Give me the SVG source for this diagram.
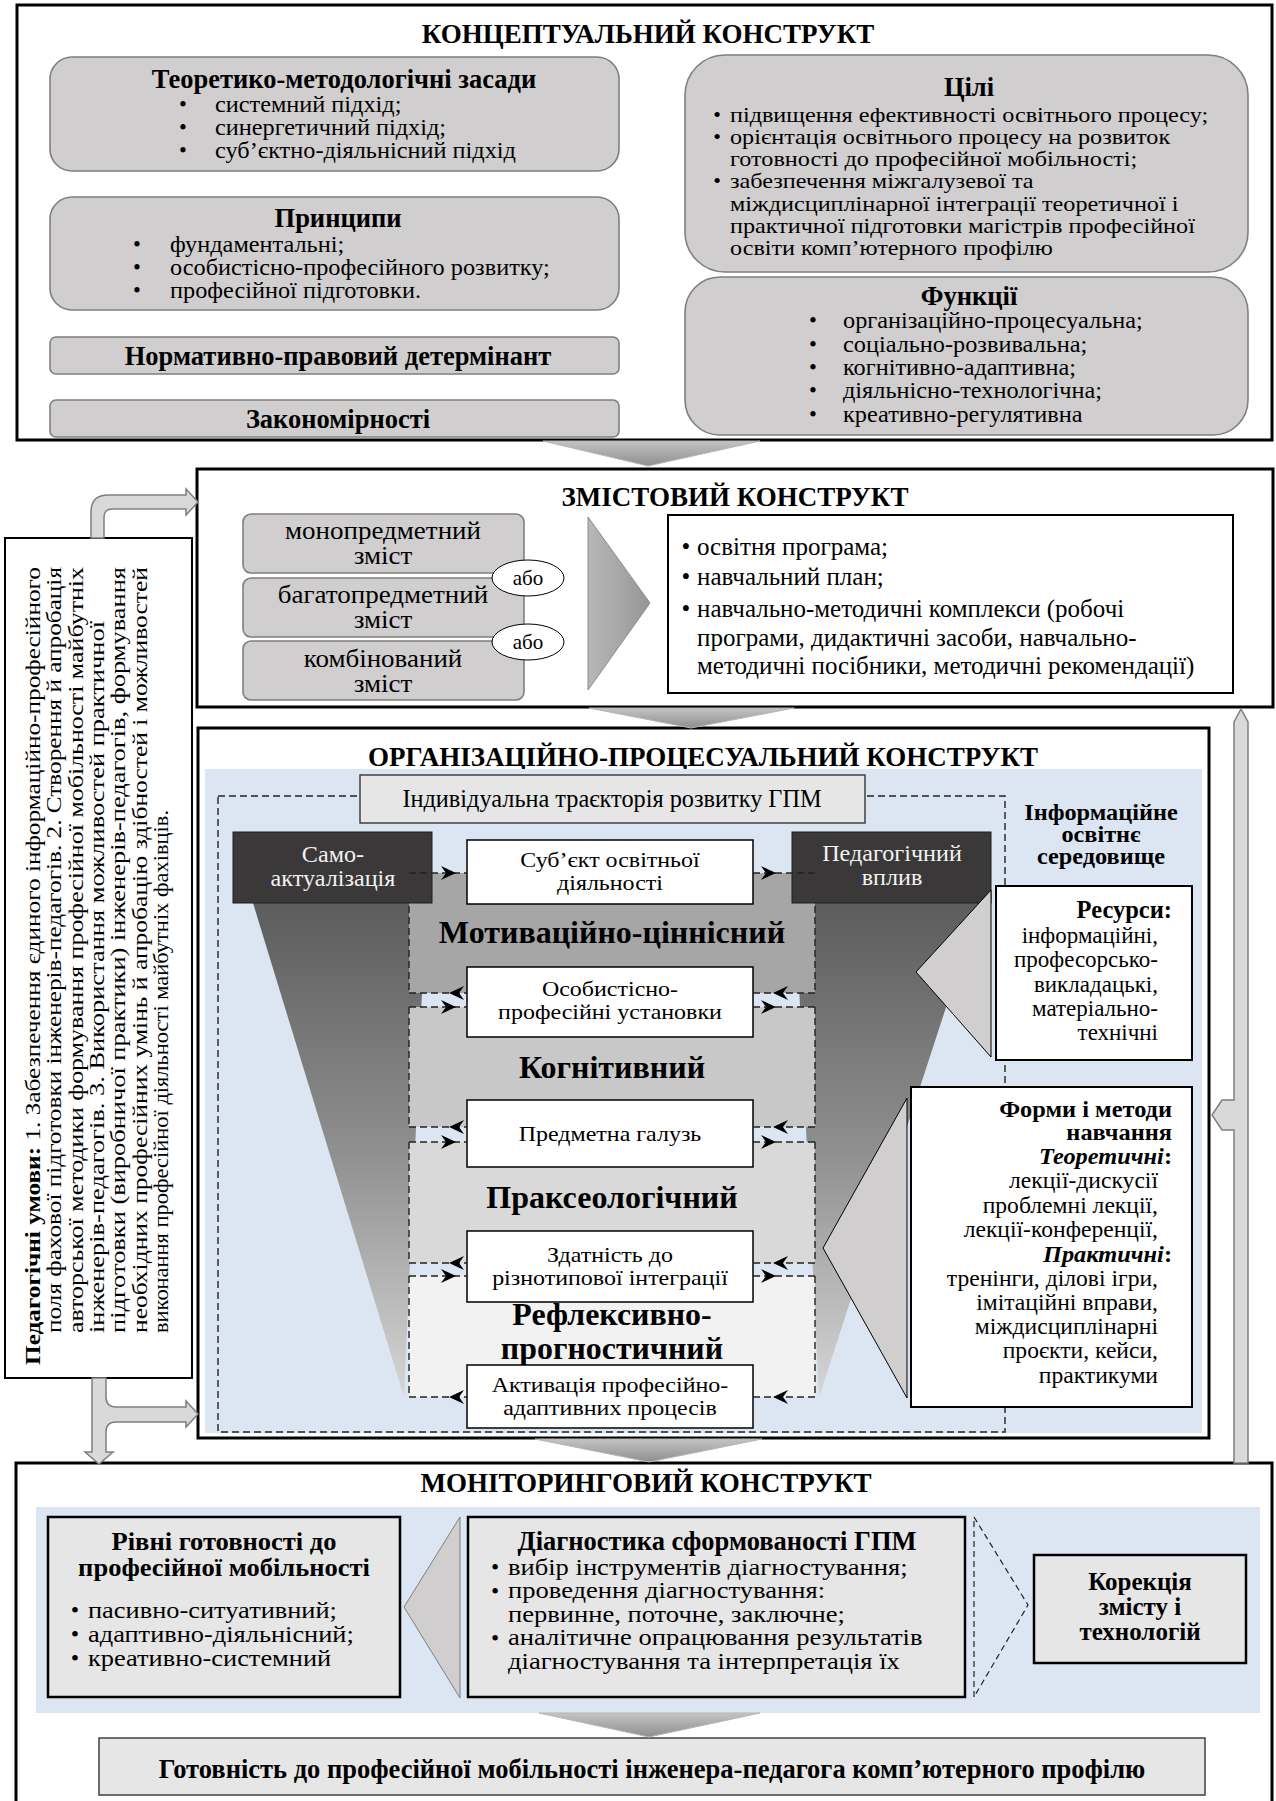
<svg xmlns="http://www.w3.org/2000/svg" width="1276" height="1801" viewBox="0 0 1276 1801">
<defs>
<style>
text{font-family:"Liberation Serif","Times New Roman",serif;fill:#000;}
.b{font-weight:bold;}
.i{font-style:italic;}
.st{font-size:27px;font-weight:bold;text-anchor:middle;}
.hd{font-size:26.5px;font-weight:bold;}
.cb{font-size:22.5px;}
.cz{font-size:22px;}
.gb{font-size:25px;}
.pb{font-size:25px;}
.ob{font-size:22px;}
.dk{font-size:23px;}
.rb{font-size:23px;}
.fb{font-size:22.5px;}
.fh{font-size:23px;font-weight:bold;}
.rh{font-size:24.5px;font-weight:bold;}
.ih{font-size:22.5px;font-weight:bold;}
.mb{font-size:24px;}
.db{font-size:23.3px;}
.cd{font-size:21px;}
.f21{font-size:21px;}
.f32{font-size:32px;font-weight:bold;}
.m{text-anchor:middle;}
.e{text-anchor:end;}
.w{fill:#f2f2f2;}
.rbox{fill:#d0cece;stroke:#7f7f7f;stroke-width:1.6;}
.lbox{fill:#e7e6e6;stroke:#000;stroke-width:2.5;}
.wbox{fill:#fff;stroke:#000;stroke-width:2;}
.sbox{fill:#fff;stroke:#000;stroke-width:1.5;}
.frame{fill:#fff;stroke:#000;stroke-width:3;}
.dash{fill:none;stroke:#222;stroke-width:1.4;stroke-dasharray:7 4;}
.chev{fill:url(#gchev);stroke:#b5b5b5;stroke-width:1;}
.ptr{fill:#d0cece;stroke:#000;stroke-width:1;}
.garrow{fill:#d9d9d9;stroke:#7f7f7f;stroke-width:1.5;}
.ah{fill:#000;}
</style>
<linearGradient id="gchev" x1="0" y1="0" x2="0" y2="1">
<stop offset="0" stop-color="#c4c4c4"/>
<stop offset="1" stop-color="#8e8e8e"/>
</linearGradient>
<linearGradient id="gtri" x1="0" y1="0" x2="1" y2="0">
<stop offset="0" stop-color="#b8b8b8"/>
<stop offset="1" stop-color="#969696"/>
</linearGradient>
<linearGradient id="gwedge" gradientUnits="userSpaceOnUse" x1="0" y1="903" x2="0" y2="1397">
<stop offset="0" stop-color="#5c5c5c"/>
<stop offset="0.5" stop-color="#8f8f8f"/>
<stop offset="1" stop-color="#d6d6d6"/>
</linearGradient>
<path id="ahR" d="M0 0 L-15 -7 L-10 0 L-15 7 Z"/>
<path id="ahL" d="M0 0 L15 -7 L10 0 L15 7 Z"/>
</defs>
<rect x="0" y="0" width="1276" height="1801" fill="#fff"/>

<!-- CONCEPTUAL -->
<g id="conceptual">
<rect class="frame" x="17" y="5" width="1255" height="435"/>
<text class="st" x="648" y="43">КОНЦЕПТУАЛЬНИЙ КОНСТРУКТ</text>
</g>
<g id="teor">
<rect class="rbox" x="50" y="57" width="569" height="114" rx="22"/>
<text class="hd m" x="344" y="88">Теоретико-методологічні засади</text>
<text class="cb m" x="183" y="112">•</text><text class="cb m" x="183" y="135">•</text><text class="cb m" x="183" y="158">•</text>
<g transform="matrix(1.08 0 0 1 -17.2 0)">
<text class="cb" x="215" y="112">системний підхід;</text>
<text class="cb" x="215" y="135">синергетичний підхід;</text>
<text class="cb" x="215" y="158">суб’єктно-діяльнісний підхід</text>
</g>
</g>
<g id="pryntsypy">
<rect class="rbox" x="50" y="197" width="569" height="113" rx="22"/>
<text class="hd m" x="338" y="227">Принципи</text>
<text class="cb m" x="137" y="252">•</text><text class="cb m" x="137" y="275">•</text><text class="cb m" x="137" y="298">•</text>
<g transform="matrix(1.08 0 0 1 -13.6 0)">
<text class="cb" x="170" y="252">фундаментальні;</text>
<text class="cb" x="170" y="275">особистісно-професійного розвитку;</text>
<text class="cb" x="170" y="298">професійної підготовки.</text>
</g>
</g>
<g id="normatyv">
<rect class="rbox" x="50" y="337" width="569" height="37" rx="6"/>
<text class="hd m" x="338" y="365">Нормативно-правовий детермінант</text>
</g>
<g id="zakonom">
<rect class="rbox" x="50" y="400" width="569" height="37" rx="6"/>
<text class="hd m" x="338" y="428">Закономірності</text>
</g>
<g id="tsili">
<rect class="rbox" x="685" y="55" width="563" height="217" rx="40"/>
<text class="hd m" x="969" y="96">Цілі</text>
<text class="cz m" x="717" y="122">•</text><text class="cz m" x="717" y="144">•</text><text class="cz m" x="717" y="188">•</text>
<g transform="matrix(1.1 0 0 1 -73 0)">
<text class="cz" x="730" y="122">підвищення ефективності освітнього процесу;</text>
<text class="cz" x="730" y="144">орієнтація освітнього процесу на розвиток</text>
<text class="cz" x="730" y="166">готовності до професійної мобільності;</text>
<text class="cz" x="730" y="188">забезпечення міжгалузевої та</text>
<text class="cz" x="730" y="211">міждисциплінарної інтеграції теоретичної і</text>
<text class="cz" x="730" y="233">практичної підготовки магістрів професійної</text>
<text class="cz" x="730" y="255">освіти комп’ютерного профілю</text>
</g>
</g>
<g id="funktsii">
<rect class="rbox" x="685" y="277" width="563" height="158" rx="35"/>
<text class="hd m" x="969" y="305">Функції</text>
<text class="cb m" x="813" y="328">•</text><text class="cb m" x="813" y="352">•</text><text class="cb m" x="813" y="375">•</text><text class="cb m" x="813" y="398">•</text><text class="cb m" x="813" y="422">•</text>
<g transform="matrix(1.08 0 0 1 -67.44 0)">
<text class="cb" x="843" y="328">організаційно-процесуальна;</text>
<text class="cb" x="843" y="352">соціально-розвивальна;</text>
<text class="cb" x="843" y="375">когнітивно-адаптивна;</text>
<text class="cb" x="843" y="398">діяльнісно-технологічна;</text>
<text class="cb" x="843" y="422">креативно-регулятивна</text>
</g>
</g>

<!-- CONTENT -->
<g id="content">
<rect class="frame" x="197" y="469" width="1076" height="238" stroke-width="2.5"/>
<text class="st" x="735" y="506">ЗМІСТОВИЙ КОНСТРУКТ</text>
</g>
<g id="mono">
<rect class="rbox" x="243" y="514" width="281" height="59" rx="8"/>
<g transform="matrix(1.08 0 0 1 -30.64 0)">
<text class="gb m" x="383" y="539">монопредметний</text>
<text class="gb m" x="383" y="564">зміст</text>
</g>
</g>
<g id="bagato">
<rect class="rbox" x="243" y="578" width="281" height="59" rx="8"/>
<g transform="matrix(1.08 0 0 1 -30.64 0)">
<text class="gb m" x="383" y="603">багатопредметний</text>
<text class="gb m" x="383" y="628">зміст</text>
</g>
</g>
<g id="kombin">
<rect class="rbox" x="243" y="641" width="281" height="59" rx="8"/>
<g transform="matrix(1.08 0 0 1 -30.64 0)">
<text class="gb m" x="383" y="667">комбінований</text>
<text class="gb m" x="383" y="692">зміст</text>
</g>
</g>
<g id="abo1">
<ellipse cx="528" cy="578" rx="36" ry="18" fill="#fff" stroke="#000" stroke-width="1"/>
<text class="f21 m" x="528" y="585">або</text>
</g>
<g id="abo2">
<ellipse cx="528" cy="642" rx="36" ry="18" fill="#fff" stroke="#000" stroke-width="1"/>
<text class="f21 m" x="528" y="649">або</text>
</g>
<g id="program">
<rect class="wbox" x="668" y="515" width="565" height="178"/>
<text class="pb m" x="686" y="555">•</text><text class="pb" x="697" y="555">освітня програма;</text>
<text class="pb m" x="686" y="585">•</text><text class="pb" x="697" y="585">навчальний план;</text>
<text class="pb m" x="686" y="617">•</text><text class="pb" x="697" y="617">навчально-методичні комплекси (робочі</text>
<text class="pb" x="697" y="646">програми, дидактичні засоби, навчально-</text>
<text class="pb" x="697" y="674">методичні посібники, методичні рекомендації)</text>
</g>

<!-- ORGANIZATIONAL -->
<g id="org">
<rect class="frame" x="198" y="728" width="1011" height="710" stroke-width="2.5"/>
<text class="st" x="703" y="766">ОРГАНІЗАЦІЙНО-ПРОЦЕСУАЛЬНИЙ КОНСТРУКТ</text>
<rect x="205" y="769" width="997" height="664" fill="#dce6f2"/>
<rect class="dash" x="218" y="796" width="787" height="636"/>
<polygon points="253,903 426,903 404,1397" fill="url(#gwedge)"/>
<polygon points="795,903 980,903 819,1397" fill="url(#gwedge)"/>
<g transform="matrix(1.08 0 0 1 -88.08 0)">
<text class="ih m" x="1101" y="820">Інформаційне</text>
<text class="ih m" x="1101" y="842">освітнє</text>
<text class="ih m" x="1101" y="864">середовище</text>
</g>
</g>
<g id="panel-motiv">
<rect x="409" y="873" width="406" height="120" fill="#a6a6a6"/>
<path class="dash" d="M409 873 V993 M815 873 V993"/>
<text class="f32 m" x="612" y="943">Мотиваційно-ціннісний</text>
</g>
<g id="panel-kogn">
<rect x="409" y="1007" width="406" height="120" fill="#c8c8c8"/>
<path class="dash" d="M409 1007 V1127 M815 1007 V1127"/>
<text class="f32 m" x="612" y="1078">Когнітивний</text>
</g>
<g id="panel-prax">
<rect x="409" y="1142" width="406" height="121" fill="#d9d9d9"/>
<path class="dash" d="M409 1142 V1263 M815 1142 V1263"/>
<text class="f32 m" x="612" y="1208">Праксеологічний</text>
</g>
<g id="panel-refl">
<rect x="409" y="1276" width="406" height="121" fill="#f2f2f2"/>
<path class="dash" d="M409 1276 V1397 M815 1276 V1397"/>
<g transform="matrix(1.03 0 0 1 -18.36 0)">
<text class="b m" style="font-size:31px" x="612" y="1325">Рефлексивно-</text>
<text class="b m" style="font-size:31px" x="612" y="1359">прогностичний</text>
</g>
</g>
<g id="traject">
<rect x="360" y="775" width="505" height="48" fill="#e7e6e6" stroke="#404040" stroke-width="1.5"/>
<text class="m" style="font-size:24.3px" x="612" y="807">Індивідуальна траєкторія розвитку ГПМ</text>
</g>
<g id="samo">
<rect x="233" y="832" width="199" height="71" fill="#3a3838" stroke="#1e1e1e" stroke-width="1"/>
<g transform="matrix(1.05 0 0 1 -16.65 0)">
<text class="dk m w" x="333" y="862">Само-</text>
<text class="dk m w" x="333" y="886">актуалізація</text>
</g>
</g>
<g id="pedvplyv">
<rect x="792" y="832" width="199" height="71" fill="#3a3838" stroke="#1e1e1e" stroke-width="1"/>
<g transform="matrix(1.05 0 0 1 -44.6 0)">
<text class="dk m w" x="892" y="861">Педагогічний</text>
<text class="dk m w" x="892" y="885">вплив</text>
</g>
</g>
<g id="subject">
<rect class="sbox" x="467" y="840" width="286" height="64"/>
<g transform="matrix(1.09 0 0 1 -54.9 0)">
<text class="ob m" x="610" y="867">Суб’єкт освітньої</text>
<text class="ob m" x="610" y="890">діяльності</text>
</g>
</g>
<g id="osobyst">
<rect class="sbox" x="467" y="967" width="286" height="70"/>
<g transform="matrix(1.09 0 0 1 -54.9 0)">
<text class="ob m" x="610" y="996">Особистісно-</text>
<text class="ob m" x="610" y="1019">професійні установки</text>
</g>
</g>
<g id="predmet">
<rect class="sbox" x="467" y="1100" width="286" height="67"/>
<g transform="matrix(1.09 0 0 1 -54.9 0)">
<text class="ob m" x="610" y="1141">Предметна галузь</text>
</g>
</g>
<g id="zdatnist">
<rect class="sbox" x="467" y="1231" width="286" height="71"/>
<g transform="matrix(1.09 0 0 1 -54.9 0)">
<text class="ob m" x="610" y="1262">Здатність до</text>
<text class="ob m" x="610" y="1285">різнотипової інтеграції</text>
</g>
</g>
<g id="aktyv">
<rect class="sbox" x="467" y="1365" width="286" height="63"/>
<g transform="matrix(1.09 0 0 1 -54.9 0)">
<text class="ob m" x="610" y="1392">Активація професійно-</text>
<text class="ob m" x="610" y="1415">адаптивних процесів</text>
</g>
</g>
<g id="resursy">
<rect class="wbox" x="996" y="886" width="196" height="174"/>
<text class="rh e" x="1172" y="918">Ресурси:</text>
<text class="rb e" x="1158" y="943">інформаційні,</text>
<text class="rb e" x="1158" y="967">професорсько-</text>
<text class="rb e" x="1158" y="992">викладацькі,</text>
<text class="rb e" x="1158" y="1016">матеріально-</text>
<text class="rb e" x="1158" y="1040">технічні</text>
</g>
<g id="formy">
<rect class="wbox" x="911" y="1087" width="281" height="320"/>
<g transform="matrix(1.06 0 0 1 -70.32 0)">
<text class="fh e" x="1172" y="1117">Форми і методи</text>
<text class="fh e" x="1172" y="1140">навчання</text>
<text class="fh e" x="1172" y="1164"><tspan class="i">Теоретичні</tspan>:</text>
<text class="fh e" x="1172" y="1262"><tspan class="i">Практичні</tspan>:</text>
</g>
<g transform="matrix(1.05 0 0 1 -57.9 0)">
<text class="fb e" x="1158" y="1188">лекції-дискусії</text>
<text class="fb e" x="1158" y="1213">проблемні лекції,</text>
<text class="fb e" x="1158" y="1237">лекції-конференції,</text>
<text class="fb e" x="1158" y="1286">тренінги, ділові ігри,</text>
<text class="fb e" x="1158" y="1310">імітаційні вправи,</text>
<text class="fb e" x="1158" y="1334">міждисциплінарні</text>
<text class="fb e" x="1158" y="1358">проєкти, кейси,</text>
<text class="fb e" x="1158" y="1383">практикуми</text>
</g>
</g>

<!-- CONDITIONS -->
<g id="conditions">
<rect class="wbox" x="5" y="538" width="187" height="840"/>
<text class="cd" transform="translate(40,1365) rotate(-90)" textLength="798" lengthAdjust="spacingAndGlyphs"><tspan class="b">Педагогічні умови:</tspan> 1. Забезпечення єдиного інформаційно-професійного</text>
<text class="cd" transform="translate(61,1333) rotate(-90)" textLength="766" lengthAdjust="spacingAndGlyphs">поля фахової підготовки інженерів-педагогів. 2. Створення й апробація</text>
<text class="cd" transform="translate(83,1333) rotate(-90)" textLength="766" lengthAdjust="spacingAndGlyphs">авторської методики формування професійної мобільності майбутніх</text>
<text class="cd" transform="translate(104,1333) rotate(-90)" textLength="712" lengthAdjust="spacingAndGlyphs">інженерів-педагогів. 3. Використання можливостей практичної</text>
<text class="cd" transform="translate(125,1333) rotate(-90)" textLength="766" lengthAdjust="spacingAndGlyphs">підготовки (виробничої практики) інженерів-педагогів, формування</text>
<text class="cd" transform="translate(147,1333) rotate(-90)" textLength="766" lengthAdjust="spacingAndGlyphs">необхідних професійних умінь й апробацію здібностей і можливостей</text>
<text class="cd" transform="translate(168,1333) rotate(-90)" textLength="523" lengthAdjust="spacingAndGlyphs">виконання професійної діяльності майбутніх фахівців.</text>
</g>

<!-- MONITORING -->
<g id="monitoring">
<rect class="frame" x="16" y="1463" width="1256" height="345"/>
<text class="st" x="646" y="1492">МОНІТОРИНГОВИЙ КОНСТРУКТ</text>
<rect x="36" y="1507" width="1224" height="206" fill="#dce6f2"/>
</g>
<g id="rivni">
<rect class="lbox" x="48" y="1517" width="352" height="180"/>
<g transform="matrix(1.04 0 0 1 -8.96 0)">
<text class="b m" style="font-size:25.5px" x="224" y="1550">Рівні готовності до</text>
<text class="b m" style="font-size:25.5px" x="224" y="1576">професійної мобільності</text>
</g>
<text class="mb m" x="75" y="1618">•</text><text class="mb m" x="75" y="1642">•</text><text class="mb m" x="75" y="1666">•</text>
<g transform="matrix(1.1 0 0 1 -8.8 0)">
<text class="mb" x="88" y="1618">пасивно-ситуативний;</text>
<text class="mb" x="88" y="1642">адаптивно-діяльнісний;</text>
<text class="mb" x="88" y="1666">креативно-системний</text>
</g>
</g>
<g id="diagn">
<rect class="lbox" x="468" y="1517" width="497" height="180"/>
<text class="hd m" x="717" y="1550">Діагностика сформованості ГПМ</text>
<text class="db m" x="495" y="1575">•</text><text class="db m" x="495" y="1598.5">•</text><text class="db m" x="495" y="1645.5">•</text>
<g transform="matrix(1.14 0 0 1 -71.12 0)">
<text class="db" x="508" y="1575">вибір інструментів діагностування;</text>
<text class="db" x="508" y="1598.5">проведення діагностування:</text>
<text class="db" x="508" y="1622">первинне, поточне, заключне;</text>
<text class="db" x="508" y="1645.5">аналітичне опрацювання результатів</text>
<text class="db" x="508" y="1669">діагностування та інтерпретація їх</text>
</g>
</g>
<g id="korek">
<rect class="lbox" x="1034" y="1555" width="212" height="108"/>
<text class="b m" style="font-size:25px" x="1140" y="1590">Корекція</text>
<text class="b m" style="font-size:25px" x="1140" y="1615">змісту і</text>
<text class="b m" style="font-size:25px" x="1140" y="1640">технологій</text>
</g>
<g id="final">
<rect x="99" y="1738" width="1106" height="57" fill="#e7e6e6" stroke="#404040" stroke-width="1.5"/>
<text class="hd m" x="652" y="1778">Готовність до професійної мобільності інженера-педагога комп’ютерного профілю</text>
</g>

<!-- CONNECTORS -->
<g id="connectors">
<polygon class="chev" points="543,441 760,441 648,466"/>
<polygon class="chev" points="589,708 794,708 691,728"/>
<polygon class="chev" points="535,1439 762,1439 649,1462"/>
<polygon class="chev" points="539,1713 760,1713 649,1737"/>
<polygon points="588,517 650,603 588,690" fill="url(#gtri)" stroke="#8c8c8c" stroke-width="1"/>
<polygon class="ptr" points="916,972 991,890 991,1057"/>
<polygon class="ptr" points="823,1248 907,1098 907,1398"/>
<polygon points="404,1607 460,1517 460,1698" fill="#d0cece" stroke="#7f7f7f" stroke-width="1"/>
<polygon points="974,1517 1028,1605 974,1697" fill="none" stroke="#222" stroke-width="1.2" stroke-dasharray="6 4"/>
<path class="dash" d="M409 873 H467 M753 873 H815 M409 993 H467 M753 993 H815 M409 1007 H467 M753 1007 H815 M409 1127 H467 M753 1127 H815 M409 1142 H467 M753 1142 H815 M409 1263 H467 M753 1263 H815 M409 1276 H467 M753 1276 H815 M409 1397 H467 M753 1397 H815"/>
<use href="#ahR" x="456" y="873" class="ah"/><use href="#ahR" x="776" y="873" class="ah"/>
<use href="#ahL" x="449" y="993" class="ah"/><use href="#ahL" x="773" y="993" class="ah"/>
<use href="#ahR" x="456" y="1007" class="ah"/><use href="#ahR" x="776" y="1007" class="ah"/>
<use href="#ahL" x="449" y="1127" class="ah"/><use href="#ahL" x="773" y="1127" class="ah"/>
<use href="#ahR" x="456" y="1142" class="ah"/><use href="#ahR" x="776" y="1142" class="ah"/>
<use href="#ahL" x="449" y="1263" class="ah"/><use href="#ahL" x="773" y="1263" class="ah"/>
<use href="#ahR" x="456" y="1276" class="ah"/><use href="#ahR" x="776" y="1276" class="ah"/>
<use href="#ahL" x="449" y="1397" class="ah"/><use href="#ahL" x="773" y="1397" class="ah"/>
<path class="garrow" d="M91 538 L91 512 Q91 495 108 495 L186 495 L186 489 L198 502 L186 515 L186 509 L112 509 Q104 509 104 517 L104 538 Z"/>
<path class="garrow" d="M92 1378 L92 1452 L85 1452 L99 1464 L113 1452 L106 1452 L106 1432 Q106 1422 116 1422 L186 1422 L186 1427 L198 1414 L186 1401 L186 1407 L116 1407 Q106 1407 106 1397 L106 1378 Z"/>
<path class="garrow" d="M1234 1463 L1234 1130 L1222 1130 L1212 1115 L1222 1100 L1234 1100 L1234 722 L1241 709 L1248 722 L1248 1463 Z"/>
</g>
</svg>
